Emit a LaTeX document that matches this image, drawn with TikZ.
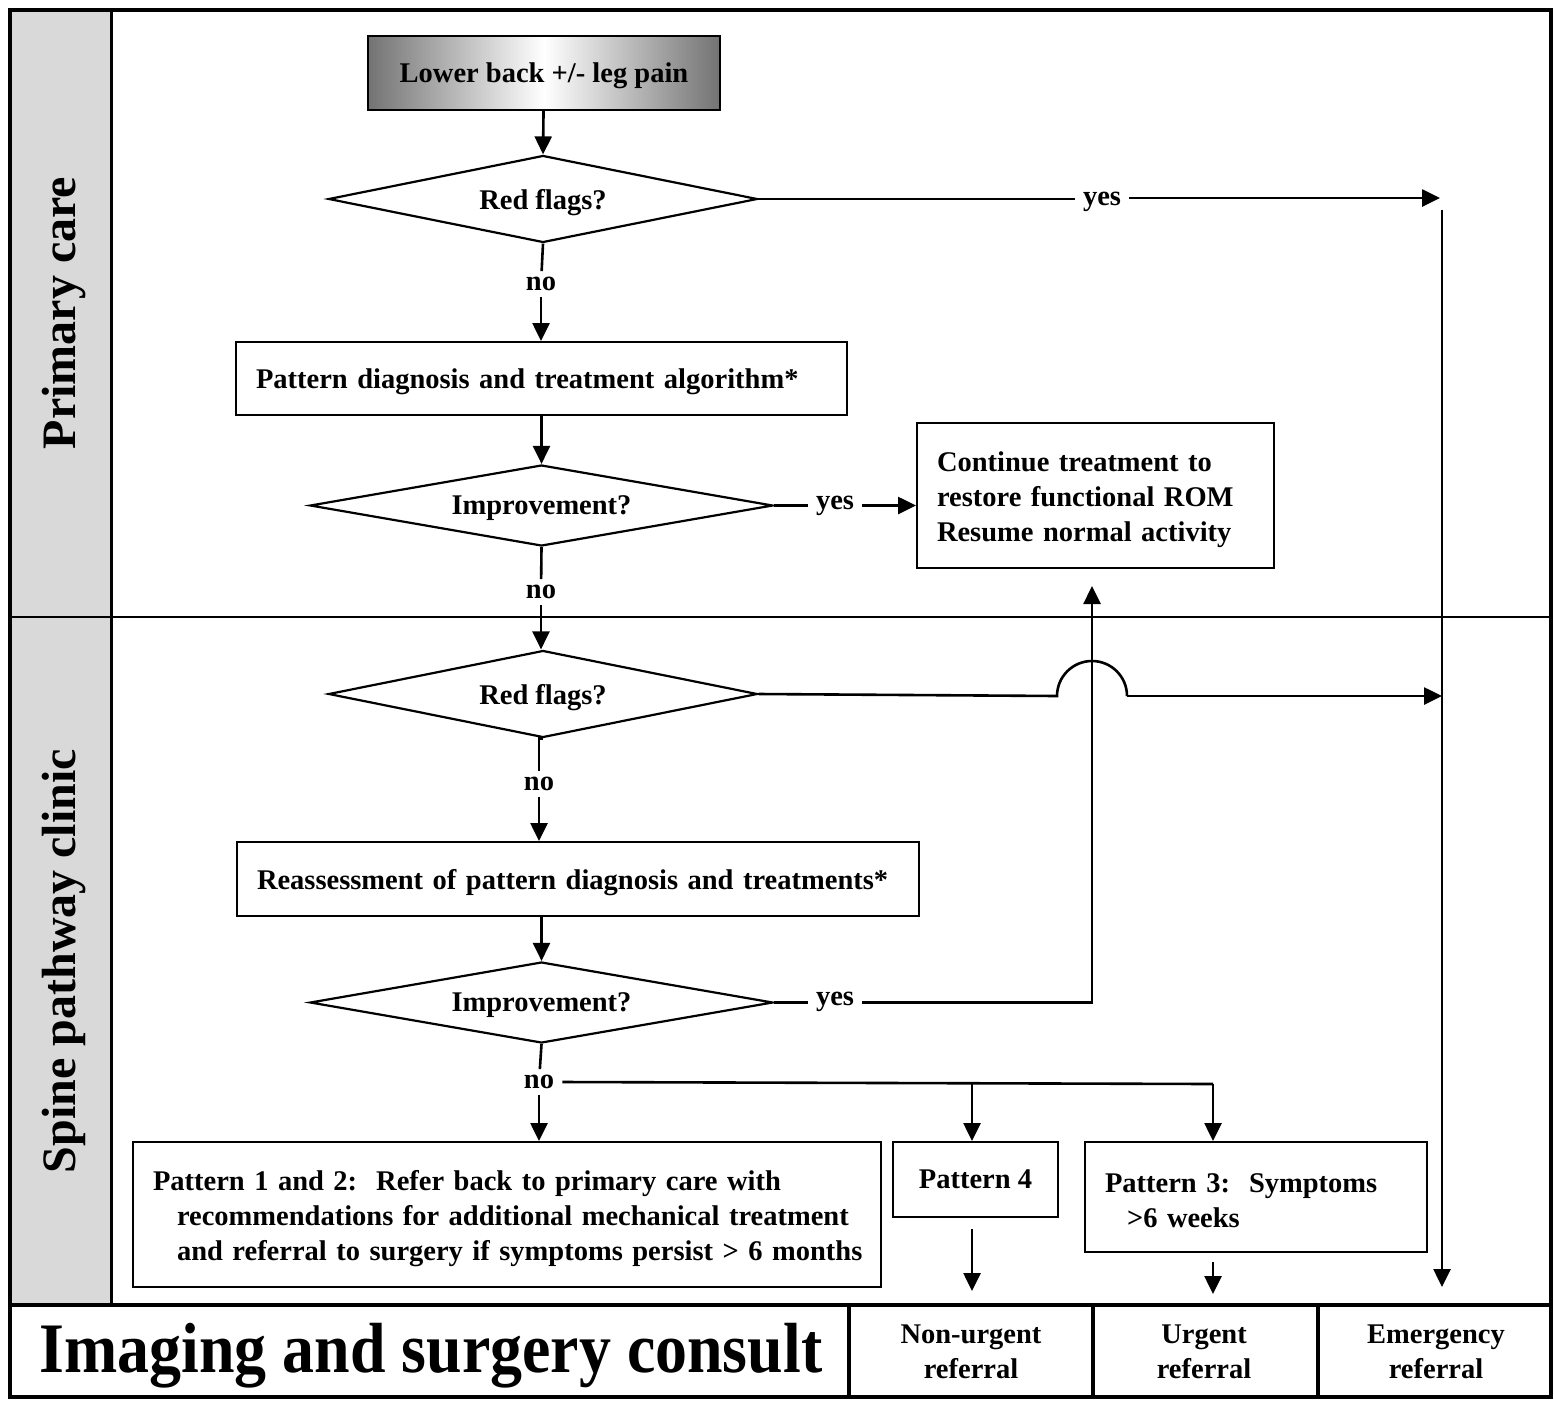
\documentclass[tikz,border=0pt]{standalone}
\usepackage{fontspec}
\setmainfont{Liberation Serif}
\usetikzlibrary{shapes.geometric, arrows.meta, positioning}

\newcommand{\flowfont}{\fontsize{28.5}{35}\selectfont\bfseries}
\newcommand{\lanefont}{\fontsize{48}{50}\selectfont\bfseries}
\newcommand{\boxstrut}{\rule{0pt}{29pt}}

\tikzset{
    flowbox/.style={draw, line width=2pt, fill=white, inner xsep=20pt, inner ysep=8pt, align=left, font=\flowfont},
    onerow/.style={text depth=0pt},
    startbox/.style={draw, line width=2pt, left color=black!55, right color=black!55, middle color=white, text depth=0pt, font=\flowfont},
    decision/.style={draw, diamond, aspect=5, line width=2.2pt, fill=white, inner sep=0pt, text depth=0pt, minimum width=429pt, minimum height=87pt, font=\flowfont},
    decisionwide/.style={decision, minimum width=463pt, minimum height=81pt},
    answer/.style={inner xsep=8pt, inner ysep=6pt, text depth=0pt, font=\flowfont},
    conn/.style={line width=2.6pt},
    arrowconn/.style={conn, -{Triangle[length=18pt, width=17pt]}},
    lanetitle/.style={font=\lanefont, rotate=90},
    referral/.style={align=center, font=\flowfont}
}

\begin{document}
\begin{tikzpicture}[x=1pt, y=-1pt]
    \useasboundingbox (0,0) rectangle (1554,1400);

    % Swim lanes
    \fill[black!15] (10,10) rectangle (111,1305);
    \draw[line width=2pt] (10,617) -- (1551,617);
    \draw[line width=3pt] (111,10) -- (111,1305);
    \draw[line width=4pt] (10,1305) -- (1551,1305);
    \draw[line width=3.5pt] (849,1305) -- (849,1397);
    \draw[line width=3.5pt] (1093,1305) -- (1093,1397);
    \draw[line width=3.5pt] (1318,1305) -- (1318,1397);
    \draw[line width=4.5pt] (10,10) rectangle (1551,1397);

    \node[lanetitle] (primary) at (64,313) {Primary care};
    \node[lanetitle] (spine) at (64,961) {Spine pathway clinic};
    \node (imaging) at (431,1356) {\scalebox{0.9}[1]{\fontsize{71}{71}\selectfont\bfseries Imaging and surgery consult}};
    \node[referral] (nonurgent) at (971,1352) {Non-urgent\\referral};
    \node[referral] (urgent) at (1204,1352) {Urgent\\referral};
    \node[referral] (emergency) at (1436,1352) {Emergency\\referral};

    % Primary care
    \node[startbox, minimum width=352pt, minimum height=74pt] (start) at (544,73) {Lower back +/- leg pain};
    \node[decision] (redflags1) at (543,199) {Red flags?};
    \node[answer] (yes1) at (1102,199) {yes};
    \node[answer] (no1) at (541,284) {no};
    \node[flowbox, onerow, text width=571pt, minimum height=73pt] (pattern) at (541.5,378.5) {\mbox{Pattern diagnosis and treatment algorithm*}};
    \node[decisionwide] (improve1) at (541.5,505.5) {Improvement?};
    \node[answer] (yes2) at (835,503) {yes};
    \node[flowbox, text width=317pt, minimum height=145pt] (continue) at (1095.5,495.5) {\boxstrut\mbox{Continue treatment to}\\\mbox{restore functional ROM}\\\mbox{Resume normal activity}};
    \node[answer] (no2) at (541,592) {no};

    % Spine pathway clinic
    \node[decision] (redflags2) at (543,694) {Red flags?};
    \node[answer] (no3) at (539,784) {no};
    \node[flowbox, onerow, text width=642pt, minimum height=74pt] (reassess) at (578,879) {\mbox{Reassessment of pattern diagnosis and treatments*}};
    \node[decisionwide] (improve2) at (541.5,1002.5) {Improvement?};
    \node[answer] (yes3) at (835,999) {yes};
    \node[answer] (no4) at (539,1082) {no};
    \node[flowbox, text width=708pt, minimum height=145pt] (pattern12) at (507,1214.5) {\boxstrut\mbox{Pattern 1 and 2:\ \ Refer back to primary care with}\\\mbox{\hspace*{24pt}recommendations for additional mechanical treatment}\\\mbox{\hspace*{24pt}and referral to surgery if symptoms persist > 6 months}};
    \node[flowbox, onerow, align=center, minimum width=165pt, minimum height=75pt, inner xsep=6pt] (pattern4) at (975.5,1179.5) {Pattern 4};
    \node[flowbox, text width=302pt, minimum height=110pt] (pattern3) at (1256,1197) {\rule{0pt}{26pt}\mbox{Pattern 3:\ \ Symptoms}\\\mbox{\hspace*{22pt}>6 weeks}};

    \coordinate (emtop) at (1442,210);
    \coordinate (embot) at (1442,1287);
    \coordinate (yes1end) at (1440,198);
    \coordinate (jumpin) at (1057,696);
    \coordinate (jumpout) at (1127,696);
    \coordinate (red2end) at (1442,696);
    \coordinate (backend) at (1092,586);
    \coordinate (split4) at (972,1082);
    \coordinate (split3) at (1213,1084);
    \coordinate (p4out) at (972,1229);
    \coordinate (p4end) at (972,1291);
    \coordinate (p3out) at (1213,1262);
    \coordinate (p3end) at (1213,1294);

    % Connectors
    \draw[arrowconn] (start) -- (redflags1.north);
    \draw[conn] (redflags1.east) -- (redflags1.east -| yes1.west);
    \draw[arrowconn] (yes1.east |- yes1end) -- (yes1end);
    \draw[arrowconn] (emtop) -- (embot);
    \draw[conn] (redflags1.south) -- (no1);
    \draw[arrowconn] (no1) -- (no1 |- pattern.north);
    \draw[arrowconn] (improve1 |- pattern.south) -- (improve1.north);
    \draw[conn] (improve1.east) -- (improve1.east -| yes2.west);
    \draw[arrowconn] (yes2.east |- improve1.east) -- (continue.west |- improve1.east);
    \draw[conn] (improve1.south) -- (no2);
    \draw[arrowconn] (no2) -- (no2 |- redflags2.north);
    \draw[conn] (redflags2.east) -- (jumpin) arc[start angle=180, end angle=0, radius=35pt];
    \draw[arrowconn] (jumpout) -- (red2end);
    \draw[conn] (redflags2.south) -- (no3 |- redflags2.south) -- (no3);
    \draw[arrowconn] (no3) -- (no3 |- reassess.north);
    \draw[arrowconn] (improve2 |- reassess.south) -- (improve2.north);
    \draw[conn] (improve2.east) -- (improve2.east -| yes3.west);
    \draw[arrowconn] (yes3.east |- improve2.east) -| (backend);
    \draw[conn] (improve2.south) -- (no4);
    \draw[arrowconn] (no4) -- (no4 |- pattern12.north);
    \draw[conn] (no4.east) -- (split3);
    \draw[arrowconn] (split4) -- (split4 |- pattern4.north);
    \draw[arrowconn] (split3) -- (split3 |- pattern3.north);
    \draw[arrowconn] (p4out) -- (p4end);
    \draw[arrowconn] (p3out) -- (p3end);
\end{tikzpicture}
\end{document}
